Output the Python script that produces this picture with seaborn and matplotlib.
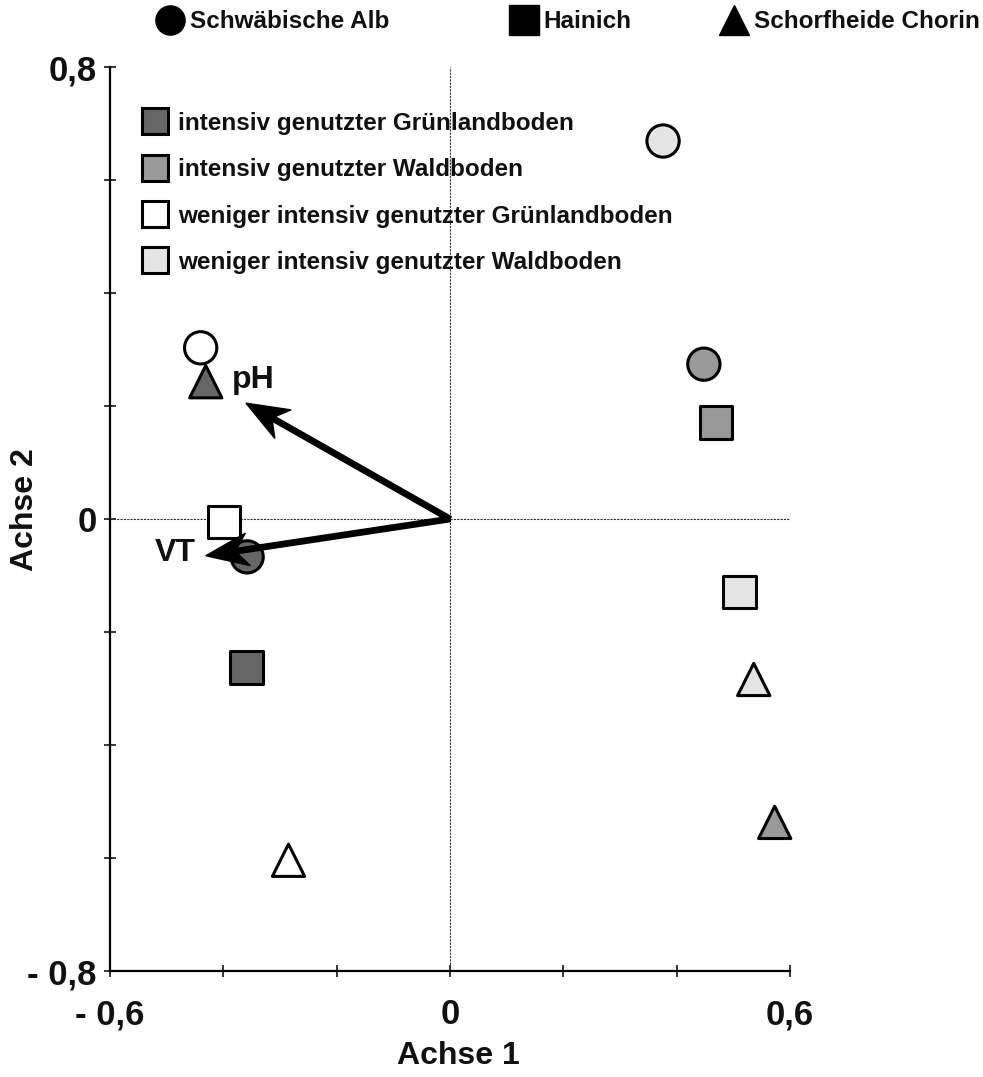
import numpy as np
import pandas as pd
import matplotlib
matplotlib.use("Agg")
import matplotlib.pyplot as plt
from matplotlib.lines import Line2D
import seaborn as sns

# --- data -------------------------------------------------------------
sites = ["Schwäbische Alb"] * 4 + ["Hainich"] * 4 + ["Schorfheide Chorin"] * 4
landuse = [
    "weniger intensiv genutzter Waldboden",
    "weniger intensiv genutzter Grünlandboden",
    "intensiv genutzter Waldboden",
    "intensiv genutzter Grünlandboden",
    "intensiv genutzter Waldboden",
    "weniger intensiv genutzter Grünlandboden",
    "intensiv genutzter Grünlandboden",
    "weniger intensiv genutzter Waldboden",
    "intensiv genutzter Grünlandboden",
    "weniger intensiv genutzter Waldboden",
    "intensiv genutzter Waldboden",
    "weniger intensiv genutzter Grünlandboden",
]
achse1 = [0.376, -0.440, 0.448, -0.358, 0.469, -0.399, -0.359, 0.511, -0.431, 0.536, 0.573, -0.285]
achse2 = [0.669, 0.303, 0.274, -0.067, 0.171, -0.005, -0.263, -0.129, 0.243, -0.284, -0.537, -0.604]

vectors = ["pH", "VT"]
vec_x = [-0.360, -0.431]
vec_y = [0.205, -0.065]

site_names = ["Schwäbische Alb", "Hainich", "Schorfheide Chorin"]
site_markers = ["o", "s", "^"]
use_names = [
    "intensiv genutzter Grünlandboden",
    "intensiv genutzter Waldboden",
    "weniger intensiv genutzter Grünlandboden",
    "weniger intensiv genutzter Waldboden",
]
use_colors = ["#666666", "#999999", "#ffffff", "#e4e4e4"]

xticks = [-0.6, -0.4, -0.2, 0.0, 0.2, 0.4, 0.6]
xticklabels = ["- 0,6", "", "", "0", "", "", "0,6"]
yticks = [-0.8, -0.6, -0.4, -0.2, 0.0, 0.2, 0.4, 0.6, 0.8]
yticklabels = ["- 0,8", "", "", "", "0", "", "", "", "0,8"]

df = pd.DataFrame({"Achse 1": achse1, "Achse 2": achse2,
                   "Standort": sites, "Nutzung": landuse})

# --- style --------------------------------------------------------------
sns.set_style("white")
plt.rcParams["font.family"] = ["Liberation Sans", "DejaVu Sans"]
plt.rcParams["font.weight"] = "bold"
plt.rcParams["text.color"] = "#111111"
plt.rcParams["axes.labelcolor"] = "#111111"
plt.rcParams["xtick.color"] = "#111111"
plt.rcParams["ytick.color"] = "#111111"

fig = plt.figure(figsize=(9.83, 10.77), dpi=100)
ax = fig.add_axes([110 / 983, 106 / 1077, 680 / 983, 904 / 1077])

ax.axvline(0, color="#333333", lw=0.8, ls=(0, (2, 1)), zorder=1)
ax.axhline(0, color="#333333", lw=0.8, ls=(0, (2, 1)), zorder=1)

sns.scatterplot(
    data=df, x="Achse 1", y="Achse 2",
    hue="Nutzung", hue_order=use_names, palette=dict(zip(use_names, use_colors)),
    style="Standort", style_order=site_names, markers=dict(zip(site_names, site_markers)),
    s=540, edgecolor="black", linewidth=2.2, legend=False, ax=ax, zorder=3,
    clip_on=False,
)

# environmental vectors
for name, vx, vy in zip(vectors, vec_x, vec_y):
    ax.arrow(0, 0, vx, vy, width=0.0095, head_width=0.058, head_length=0.075,
             length_includes_head=True, overhang=0.25, color="black", zorder=5)
ax.text(-0.385, 0.246, "pH", fontsize=23, fontweight="bold", ha="left", va="center", zorder=6)
ax.text(-0.448, -0.060, "VT", fontsize=23, fontweight="bold", ha="right", va="center", zorder=6)

# axes
ax.set_xlim(-0.6, 0.6)
ax.set_ylim(-0.8, 0.8)
ax.set_xticks(xticks)
ax.set_xticklabels(xticklabels)
ax.set_yticks(yticks)
ax.set_yticklabels(yticklabels)
ax.tick_params(axis="both", direction="inout", length=9, width=1.1, colors="black",
               labelcolor="#111111", labelsize=25, bottom=True, left=True)
ax.tick_params(axis="x", pad=15)
ax.tick_params(axis="y", pad=5)
for lab in ax.get_xticklabels() + ax.get_yticklabels():
    lab.set_fontweight("bold")
for side in ["top", "right"]:
    ax.spines[side].set_visible(False)
for side in ["left", "bottom"]:
    ax.spines[side].set_linewidth(1.6)
    ax.spines[side].set_color("black")

ax.set_xlabel("Achse 1", fontsize=23, fontweight="bold")
ax.set_ylabel("Achse 2", fontsize=23, fontweight="bold")
ax.xaxis.label.set_va("center")
ax.yaxis.label.set_va("center")
ax.xaxis.set_label_coords(0.512, -0.094)
ax.yaxis.set_label_coords(-0.125, 0.51)

# land-use legend inside the plot
use_handles = [Line2D([], [], ls="", marker="s", markersize=19, markerfacecolor=c,
                      markeredgecolor="black", markeredgewidth=2.2) for c in use_colors]
leg = ax.legend(use_handles, use_names, loc="upper left",
                bbox_to_anchor=((143 - 110) / 680, (971 - 112) / 904),
                frameon=False, handlelength=1.0, handletextpad=0.45, borderpad=0,
                borderaxespad=0, labelspacing=0.96,
                prop={"size": 17.5, "weight": "bold"})

# site legend above the plot
site_pos = [158, 512, 722]
for name, mk, px in zip(site_names, site_markers, site_pos):
    h = Line2D([], [], ls="", marker=mk, markersize=21, markerfacecolor="black",
               markeredgecolor="black")
    fig.legend([h], [name], loc="center left", bbox_to_anchor=(px / 983, 1 - 22 / 1077),
               frameon=False, handlelength=1.0, handletextpad=0.3, borderpad=0,
               borderaxespad=0, prop={"size": 17.5, "weight": "bold"})

fig.savefig("out.png", dpi=100)
